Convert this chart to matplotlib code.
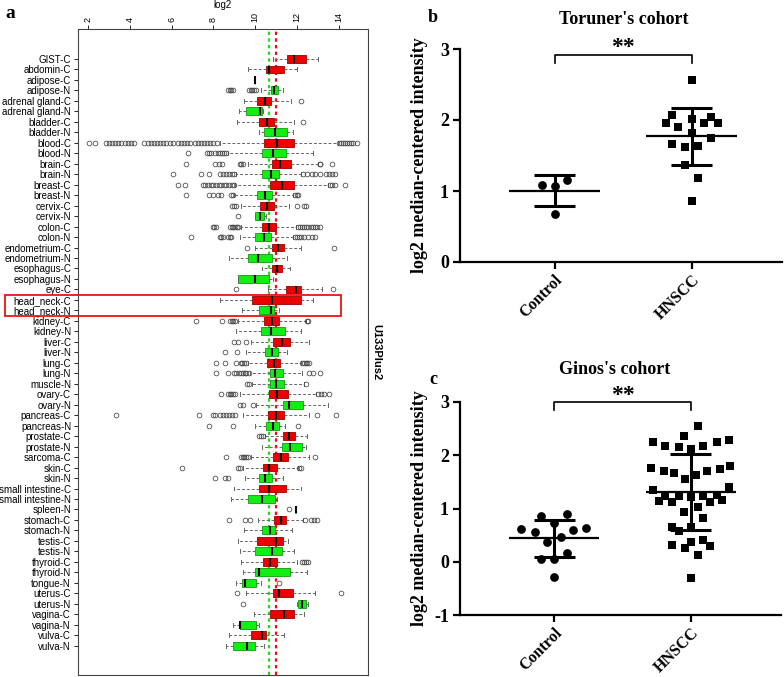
import numpy as np
import matplotlib
matplotlib.use("Agg")
import matplotlib.pyplot as plt
from matplotlib.patches import Rectangle

# ---- panel a: expression boxplots per tissue (log2) ----
categories = [
    "GIST-C", "abdomin-C", "adipose-C", "adipose-N", "adrenal gland-C", "adrenal gland-N",
    "bladder-C", "bladder-N", "blood-C", "blood-N", "brain-C", "brain-N", "breast-C",
    "breast-N", "cervix-C", "cervix-N", "colon-C", "colon-N", "endometrium-C",
    "endometrium-N", "esophagus-C", "esophagus-N", "eye-C", "head_neck-C", "head_neck-N",
    "kidney-C", "kidney-N", "liver-C", "liver-N", "lung-C", "lung-N", "muscle-N",
    "ovary-C", "ovary-N", "pancreas-C", "pancreas-N", "prostate-C", "prostate-N",
    "sarcoma-C", "skin-C", "skin-N", "small intestine-C", "small intestine-N", "spleen-N",
    "stomach-C", "stomach-N", "testis-C", "testis-N", "thyroid-C", "thyroid-N",
    "tongue-N", "uterus-C", "uterus-N", "vagina-C", "vagina-N", "vulva-C", "vulva-N",
]
whislo = [10.84, 9.65, 10.0, 10.3, 9.45, 9.22, 9.12, 10.2, 8.3, 8.7, 9.65, 9.1, 9.05,
          9.0, 9.3, 10.0, 9.3, 9.25, 10.0, 8.73, 10.33, 9.2, 10.6, 8.33, 9.38,
          9.2, 9.09, 9.8, 9.57, 9.65, 9.75, 9.85, 9.25, 10.05, 9.4, 10.0, 10.45, 10.33,
          9.8, 9.4, 9.52, 8.98, 8.85, 11.9, 10.13, 9.46, 9.17, 9.28, 9.31, 9.44,
          9.09, 9.54, 12.0, 9.92, 8.93, 8.77, 8.61]
q1 = [11.51, 10.53, 10.0, 10.77, 10.1, 9.58, 10.2, 10.4, 10.42, 10.35, 10.81, 10.32, 10.72,
      10.08, 10.25, 10.0, 10.32, 10.0, 10.81, 9.68, 10.81, 9.2, 11.48, 9.84, 10.2,
      10.42, 10.29, 10.84, 10.46, 10.57, 10.72, 10.72, 10.65, 11.32, 10.6, 10.53, 11.35, 11.29,
      10.84, 10.37, 10.16, 10.2, 9.65, 11.9, 10.89, 10.33, 10.1, 9.98, 10.37, 9.97,
      9.36, 10.84, 12.04, 10.69, 9.25, 9.8, 8.93]
med = [11.88, 10.65, 10.0, 10.88, 10.45, 10.24, 10.57, 10.97, 11.03, 10.84, 11.21, 10.77, 11.27,
       10.48, 10.57, 10.24, 10.65, 10.4, 11.08, 10.13, 11.05, 9.97, 11.93, 10.81, 10.77,
       10.81, 10.77, 11.29, 10.81, 10.88, 10.96, 11.0, 11.05, 11.61, 11.0, 10.84, 11.64, 11.69,
       11.24, 10.65, 10.45, 10.65, 10.32, 11.93, 11.24, 10.69, 11.0, 10.8, 10.72, 10.2,
       9.52, 11.16, 12.23, 11.4, 9.25, 10.33, 9.62]
q3 = [12.45, 11.37, 10.0, 11.08, 10.77, 10.32, 10.92, 11.5, 11.86, 11.48, 11.72, 11.13, 11.85,
      10.81, 10.92, 10.42, 11.0, 10.77, 11.4, 10.81, 11.27, 10.65, 12.21, 12.21, 10.89,
      11.16, 11.43, 11.67, 11.08, 11.21, 11.32, 11.37, 11.56, 12.28, 11.4, 11.13, 11.91, 12.25,
      11.59, 11.05, 10.8, 11.48, 10.97, 11.96, 11.48, 10.97, 11.32, 11.29, 11.05, 11.67,
      10.02, 11.8, 12.41, 11.88, 10.05, 10.53, 9.97]
whishi = [13.0, 12.0, 10.0, 11.35, 11.7, 10.38, 11.88, 11.8, 13.95, 12.76, 13.0, 12.2, 13.47,
          11.8, 11.6, 10.53, 11.96, 11.8, 12.2, 11.5, 11.67, 10.85, 13.19, 12.76, 11.16,
          12.44, 12.2, 12.6, 11.5, 12.2, 12.25, 12.36, 12.9, 13.47, 12.6, 11.45, 12.47, 12.44,
          12.6, 12.04, 11.32, 12.2, 11.05, 11.96, 12.28, 11.77, 11.56, 11.88, 12.0, 12.47,
          10.29, 12.84, 12.52, 12.36, 10.2, 11.4, 10.4]
fliers = [
    [], [], [],
    [8.7, 8.78, 8.86, 8.94, 9.7, 9.78, 9.86, 9.94, 10.02],
    [12.2], [], [12.28], [],
    [2.05, 2.35, 2.85, 3.0, 3.15, 3.3, 3.45, 3.6, 3.75, 3.9, 4.05, 4.2, 4.7, 4.85, 5.0, 5.15,
     5.3, 5.45, 5.6, 5.75, 5.9, 6.05, 6.3, 6.45, 6.6, 6.75, 6.9, 7.1, 7.25, 7.4, 7.55, 7.7,
     7.85, 8.0, 8.15, 14.0, 14.1, 14.2, 14.3, 14.4, 14.5, 14.6, 14.7, 14.85],
    [6.78, 7.7, 7.8, 7.9, 8.1, 8.2, 8.3, 8.4, 8.5, 8.6],
    [6.67, 8.1, 8.25, 8.4, 9.25, 9.32, 9.4, 13.08, 13.12, 13.67],
    [6.06, 7.4, 7.77, 8.3, 8.45, 8.6, 8.75, 8.9, 9.0, 12.3, 12.5, 12.7, 12.85, 13.1, 13.4,
     13.55, 13.7, 13.8],
    [6.33, 6.62, 7.5, 7.62, 7.75, 7.88, 8.0, 8.12, 8.25, 8.38, 8.5, 8.62, 8.75, 8.88, 9.0,
     13.6, 13.7, 13.8, 14.3],
    [6.7, 7.8, 7.98, 8.2, 8.36, 8.85, 8.93, 11.9, 11.98, 12.05],
    [8.9, 8.98, 9.08, 12.0, 12.35, 12.45],
    [9.17],
    [7.98, 8.05, 8.12, 8.8, 8.88, 8.96, 9.04, 9.12, 9.2, 12.05, 12.15, 12.25, 12.35, 12.45,
     12.55, 12.65, 12.75, 12.85, 12.95, 13.1],
    [6.94, 8.3, 8.38, 8.46, 8.7, 8.78, 8.86, 11.9, 12.0, 12.1, 12.2, 12.35, 12.55, 12.7, 12.85],
    [9.62, 13.76], [], [], [],
    [9.09, 13.71], [], [],
    [7.18, 8.42, 8.8, 8.88, 8.96, 9.04, 12.5, 12.55],
    [],
    [9.0, 9.17, 9.54],
    [8.57, 9.12],
    [8.14, 8.57, 9.1, 9.3, 9.38, 9.46, 9.54, 12.25, 12.33, 12.41, 12.5, 12.6],
    [8.14, 8.7, 9.0, 9.1, 9.22, 9.33, 9.41, 9.49, 9.57, 9.7, 12.6, 12.75, 13.12],
    [9.62, 9.7, 12.44],
    [8.37, 8.7, 8.78, 8.86, 8.94, 9.02, 13.0, 13.15, 13.3, 13.55],
    [9.25, 9.4, 9.9],
    [3.35, 7.3, 8.0, 8.08, 8.3, 8.45, 8.6, 8.75, 8.9, 9.05, 12.95, 13.87],
    [7.77, 8.93, 12.07],
    [10.2, 10.28, 10.37],
    [],
    [8.61, 9.33, 9.4, 9.48, 9.56, 9.64, 12.84],
    [6.49, 9.17, 9.25, 12.12, 12.2],
    [8.09, 8.57, 8.7],
    [], [],
    [11.61],
    [8.74, 9.52, 9.76, 12.4, 12.65, 12.8, 12.96],
    [], [], [],
    [12.25, 12.35, 12.45, 12.55],
    [],
    [11.13],
    [9.12, 14.11],
    [9.44],
    [], [], [], [],
]
normal_line = 10.65
cancer_line = 11.0

# ---- panels b and c: scatter with mean +/- SD ----
b_ctrl = [1.09, 1.075, 1.16, 0.68]
b_ctrl_dx = [-0.09, 0.0, 0.09, 0.0]
b_hnscc = [2.56, 2.07, 1.96, 1.90, 2.02, 2.04, 1.96, 1.96, 1.82, 1.74, 1.66, 1.62, 1.63,
           1.36, 1.18, 0.86]
b_hnscc_dx = [0.0, -0.14, -0.19, -0.10, 0.0, 0.14, 0.09, 0.19, 0.0, 0.14, -0.14, -0.05,
              0.05, -0.05, 0.05, 0.0]

c_ctrl = [0.85, 0.90, 0.73, 0.61, 0.55, 0.60, 0.63, 0.38, 0.46, 0.16, 0.05, 0.05, -0.29]
c_ctrl_dx = [-0.095, 0.09, 0.0, -0.24, -0.14, 0.14, 0.23, -0.05, 0.05, 0.09, -0.095, 0.0, 0.0]
c_hnscc = [2.54, 2.37, 2.25, 2.17, 2.15, 2.12, 2.17, 2.25, 2.28,
           1.76, 1.71, 1.67, 1.55, 1.62, 1.70, 1.75, 1.79,
           1.35, 1.40,
           1.15, 1.24, 1.13, 1.23, 1.21, 1.23, 1.13, 1.26, 1.16,
           0.94, 1.02, 0.82, 0.66, 0.57, 0.66,
           0.32, 0.26, 0.38, 0.40, 0.29, 0.13, -0.31]
c_hnscc_dx = [0.049, -0.049, -0.28, -0.19, -0.09, 0.0, 0.09, 0.19, 0.28,
              -0.29, -0.2, -0.12, -0.04, 0.04, 0.12, 0.21, 0.29,
              -0.28, 0.28,
              -0.23, -0.19, -0.14, -0.09, 0.0, 0.09, 0.14, 0.19, 0.23,
              -0.05, 0.05, 0.09, -0.14, -0.09, 0.0,
              -0.14, -0.04, 0.0, 0.09, 0.14, 0.05, 0.0]
groups = ["Control", "HNSCC"]

W, H = 784, 677
fig = plt.figure(figsize=(W / 100, H / 100), dpi=100)
sans = ["Liberation Sans", "DejaVu Sans"]
serif = ["Liberation Serif", "DejaVu Serif"]

# ================= panel a =================
ax = fig.add_axes([78 / W, 2 / H, 290 / W, 646 / H])
stats = []
for i, c in enumerate(categories):
    stats.append(dict(label=c, whislo=whislo[i], q1=q1[i], med=med[i], q3=q3[i],
                      whishi=whishi[i], fliers=fliers[i]))
ax.axvline(normal_line, color="#22dd22", ls=(0, (1.5, 1.5)), lw=1.6, zorder=1)
ax.axvline(cancer_line, color="#ee1111", ls=(0, (1.5, 1.5)), lw=1.6, zorder=1)
bp = ax.bxp(stats, positions=np.arange(len(categories)), orientation="horizontal",
            widths=0.75, patch_artist=True,
            whiskerprops=dict(ls=(0, (3, 2)), color="#666666", lw=0.7),
            capprops=dict(color="#666666", lw=0.7),
            medianprops=dict(color="black", lw=1.5),
            flierprops=dict(marker="o", mfc="none", mec="#444444", ms=3.4, mew=0.55),
            boxprops=dict(lw=0.6))
for i, box in enumerate(bp["boxes"]):
    if categories[i].endswith("-C"):
        box.set_facecolor("#ee0000")
        box.set_edgecolor("#990000")
    else:
        box.set_facecolor("#11ee11")
        box.set_edgecolor("#119911")
    box.set_zorder(2)
ax.set_xlim(1.52, 15.4)
ax.set_ylim(58.8, -2.86)
ax.set_yticks(np.arange(len(categories)))
ax.set_yticklabels(categories, fontsize=7, family=sans)
ax.tick_params(axis="y", length=3, width=0.6, pad=2)
ax.xaxis.tick_top()
ax.xaxis.set_label_position("top")
ax.set_xticks(range(2, 15, 2))
ax.set_xticklabels([str(v) for v in range(2, 15, 2)], rotation=90, fontsize=6.5, family=sans)
ax.tick_params(axis="x", length=3, width=0.6, pad=2)
ax.set_xlabel("log2", fontsize=7, family=sans, labelpad=3)
for s in ax.spines.values():
    s.set_linewidth(0.8)
    s.set_color("#444444")
ax.text(1.03, 0.5, "U133Plus2", transform=ax.transAxes, rotation=-90, ha="center",
        va="center", fontsize=8, fontweight="bold", family=sans)
ax.add_patch(Rectangle((-1.97, 22.5), 16.07, 2.0, fill=False, ec="#ee1111", lw=1.3,
                       clip_on=False, zorder=5))
fig.text(10 / W, 1 - 14 / H, "a", fontsize=14, fontweight="bold", family=serif,
         ha="center", va="center")


# ================= panels b, c =================
def dot_panel(rect, ctrl, ctrl_dx, hn, hn_dx, ylim, yticks, br_y, star_y):
    a = fig.add_axes(rect)
    for xi, vals, dx, mk in [(1, ctrl, ctrl_dx, "o"), (2, hn, hn_dx, "s")]:
        vals = np.array(vals)
        a.plot(xi + np.array(dx), vals, ls="none", marker=mk, ms=6.3, color="black",
               mew=0, clip_on=False)
        m = vals.mean()
        sd = vals.std(ddof=1)
        a.hlines(m, xi - 0.33, xi + 0.33, color="black", lw=1.6)
        a.vlines(xi, m - sd, m + sd, color="black", lw=2.2)
        a.hlines([m - sd, m + sd], xi - 0.15, xi + 0.15, color="black", lw=2.2)
    a.plot([1, 1, 2, 2], [br_y[0], br_y[1], br_y[1], br_y[0]], color="black", lw=1.2,
           clip_on=False)
    a.text(1.5, star_y, "**", ha="center", va="center", fontsize=17, fontweight="bold",
           family=serif)
    a.set_xlim(0.31, 2.66)
    a.set_ylim(*ylim)
    a.set_yticks(yticks)
    a.set_yticklabels([str(t) for t in yticks], fontsize=13, fontweight="bold", family=serif)
    a.set_xticks([1, 2])
    a.set_xticklabels(groups, rotation=45, ha="right", rotation_mode="anchor",
                      fontsize=11.5, fontweight="bold", family=serif)
    a.tick_params(length=5, width=1.6, pad=3)
    a.tick_params(axis="x", pad=2)
    a.spines["top"].set_visible(False)
    a.spines["right"].set_visible(False)
    a.spines["left"].set_linewidth(1.6)
    a.spines["bottom"].set_linewidth(1.6)
    a.set_ylabel("log2 median-centered intensity", fontsize=13, fontweight="bold",
                 family=serif)
    a.yaxis.set_label_coords(-0.1, 0.5)
    return a


dot_panel([460 / W, 1 - 262 / H, 322 / W, 213 / H], b_ctrl, b_ctrl_dx, b_hnscc, b_hnscc_dx,
          (0, 3), [0, 1, 2, 3], (2.80, 2.92), 3.02)
dot_panel([460 / W, 1 - 615 / H, 321 / W, 213 / H], c_ctrl, c_ctrl_dx, c_hnscc, c_hnscc_dx,
          (-1, 3), [-1, 0, 1, 2, 3], (2.85, 3.0), 3.12)

fig.text(624 / W, 1 - 20 / H, "Toruner's cohort", fontsize=13, fontweight="bold",
         family=serif, ha="center", va="center")
fig.text(615 / W, 1 - 370 / H, "Ginos's cohort", fontsize=13, fontweight="bold",
         family=serif, ha="center", va="center")
fig.text(433 / W, 1 - 18 / H, "b", fontsize=13, fontweight="bold", family=serif,
         ha="center", va="center")
fig.text(433 / W, 1 - 380 / H, "c", fontsize=13, fontweight="bold", family=serif,
         ha="center", va="center")

fig.savefig("out.png", dpi=100)
